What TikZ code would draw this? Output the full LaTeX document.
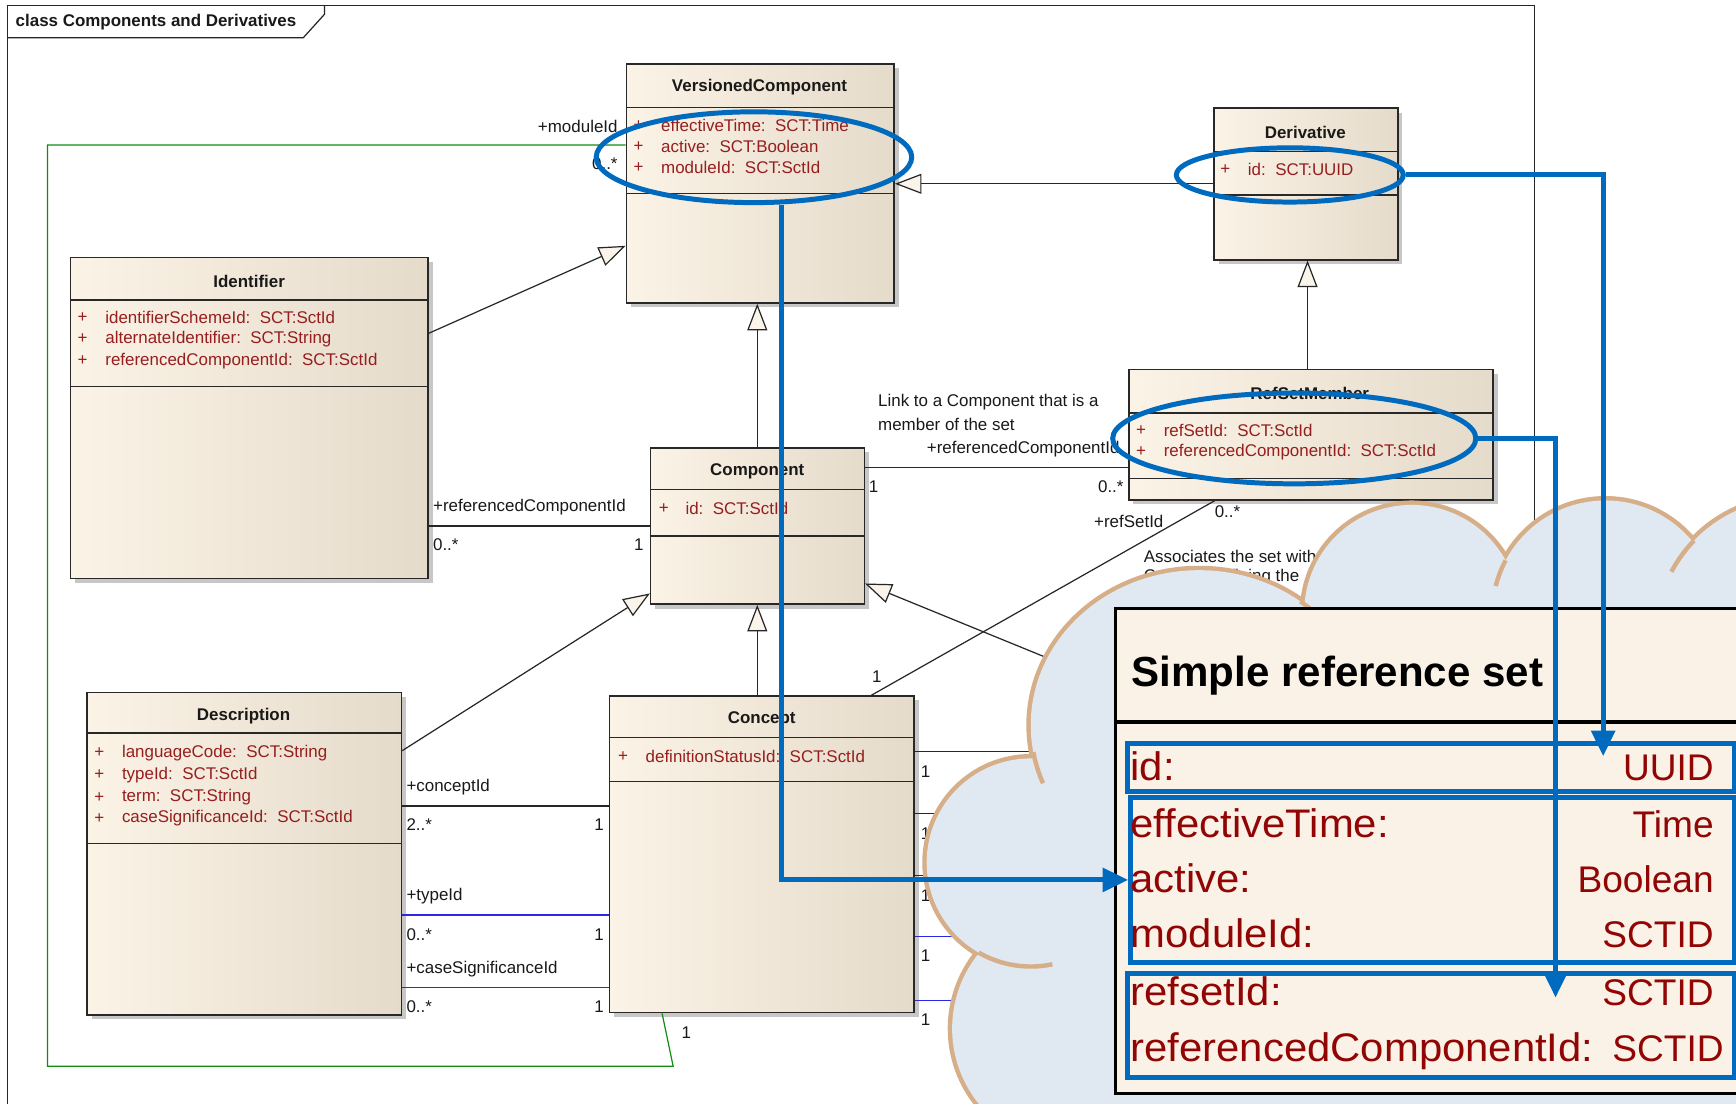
\documentclass[tikz,border=0pt]{standalone}
\usepackage{fontspec}
\setmainfont{Liberation Sans}
\newfontfamily\tblfont[FakeStretch=1.05]{Liberation Sans}
\usetikzlibrary{arrows.meta,shapes.geometric,shadows}
\definecolor{clsL}{RGB}{251,243,230}
\definecolor{clsR}{RGB}{229,219,203}
\definecolor{umlborder}{RGB}{40,40,40}
\definecolor{attrred}{RGB}{150,30,30}
\definecolor{genfill}{RGB}{250,244,234}
\definecolor{annblue}{RGB}{0,106,190}
\definecolor{cloudfill}{RGB}{224,233,242}
\definecolor{cloudline}{RGB}{214,174,136}
\definecolor{tblfill}{RGB}{250,242,230}
\definecolor{tblred}{RGB}{145,5,5}
\definecolor{assocblue}{RGB}{40,40,230}
\definecolor{umlgreen}{RGB}{20,140,20}
\begin{document}
\begin{tikzpicture}[x=1pt,y=-1pt,
 cls/.style={draw=umlborder,line width=1.3pt,left color=clsL,right color=clsR,inner sep=0pt,anchor=north west,
   drop shadow={shadow xshift=4pt,shadow yshift=-4pt,fill=black,opacity=0.22}},
 sepline/.style={draw=umlborder,line width=1.3pt},
 ctitle/.style={font=\fontsize{15.3}{18}\selectfont\bfseries,text=black!90,inner sep=0pt},
 attr/.style={font=\fontsize{15.3}{18}\selectfont,text=attrred,inner sep=0pt,anchor=west},
 lbl/.style={font=\fontsize{15.3}{18}\selectfont,text=black!90,inner sep=0pt},
 assoc/.style={draw=black!85,line width=1.1pt},
 bassoc/.style={draw=assocblue,line width=1.1pt},
 gen/.style={draw=black!85,line width=1.1pt,-{Triangle[length=24pt,width=18pt,fill=genfill]}},
 gline/.style={draw=umlgreen,line width=1.1pt},
 frame/.style={draw=black!85,line width=1.1pt},
 annell/.style={draw=annblue,line width=4.5pt,ellipse,inner sep=0pt},
 annline/.style={draw=annblue,line width=4.5pt,-{Triangle[length=23pt,width=21pt]}},
 annrect/.style={draw=annblue,line width=4.5pt,inner sep=0pt,anchor=north west},
 rowlbl/.style={font=\tblfont\fontsize{36}{40}\selectfont,text=tblred,inner sep=0pt,anchor=base west},
 rowval/.style={font=\fontsize{33.5}{40}\selectfont,text=tblred,inner sep=0pt,anchor=base east},
 cloudedge/.style={draw=cloudline,line width=8pt},
 cloudspur/.style={draw=cloudline,line width=4pt},
]
\useasboundingbox (0,0) rectangle (1568,997);
\fill[white] (0,0) rectangle (1568,997);

% ---------------- frame
\draw[frame] (7,1010) -- (7,5) -- (1386,5) -- (1386,1010);
\draw[frame] (7,34) -- (274,34) -- (293,13) -- (293,5);
\node[lbl,font=\fontsize{15.3}{18}\selectfont\bfseries,anchor=west] (frametitle) at (14,20) {class Components and Derivatives};

% ---------------- helper coordinates
\coordinate (h131) at (0,131);
\coordinate (h166) at (0,166);
\coordinate (h222) at (0,222);
\coordinate (h301) at (0,301);
\coordinate (h422) at (0,422);
\coordinate (h475) at (0,475);
\coordinate (h527) at (0,527);
\coordinate (h536) at (0,536);
\coordinate (h678) at (0,678);
\coordinate (h728) at (0,728);
\coordinate (h826) at (0,826.5);
\coordinate (h892) at (0,891.7);
\coordinate (v684) at (684,0);
\coordinate (v1181) at (1181,0);
\coordinate (v787) at (787,0);
\coordinate (v1097) at (1097,0);
\coordinate (v598) at (598,0);

% ---------------- class boxes
\node[cls,minimum width=242pt,minimum height=216pt] (vc) at (565,57) {};
\draw[sepline] (565,97) -- (807,97);
\draw[sepline] (565,175) -- (807,175);
\node[ctitle] (vc-t) at (686,79) {VersionedComponent};
\node[attr] (vc-p1) at (572,113) {+};
\node[attr] (vc-p2) at (572,132) {+};
\node[attr] (vc-p3) at (572,151) {+};
\node[attr] (vc-a1) at (597,113) {effectiveTime:\ \ SCT:Time};
\node[attr] (vc-a2) at (597,132) {active:\ \ SCT:Boolean};
\node[attr] (vc-a3) at (597,151) {moduleId:\ \ SCT:SctId};

\node[cls,minimum width=166pt,minimum height=137pt] (der) at (1096,97) {};
\draw[sepline] (1096,137) -- (1262,137);
\draw[sepline] (1096,176) -- (1262,176);
\node[ctitle] (der-t) at (1179,120) {Derivative};
\node[attr] (der-p1) at (1102,153) {+};
\node[attr] (der-a1) at (1127,153) {id:\ \ SCT:UUID};

\node[cls,minimum width=323pt,minimum height=290pt] (ident) at (63,232) {};
\draw[sepline] (63,271) -- (386,271);
\draw[sepline] (63,349) -- (386,349);
\node[ctitle] (ident-t) at (225,254) {Identifier};
\node[attr] (ident-p1) at (70,287) {+};
\node[attr] (ident-p2) at (70,306) {+};
\node[attr] (ident-p3) at (70,326) {+};
\node[attr] (ident-a1) at (95,287) {identifierSchemeId:\ \ SCT:SctId};
\node[attr] (ident-a2) at (95,306) {alternateIdentifier:\ \ SCT:String};
\node[attr] (ident-a3) at (95,326) {referencedComponentId:\ \ SCT:SctId};

\node[cls,minimum width=193pt,minimum height=141pt] (comp) at (587,404) {};
\draw[sepline] (587,442) -- (780,442);
\draw[sepline] (587,484) -- (780,484);
\node[ctitle] (comp-t) at (684,426) {Component};
\node[attr] (comp-p1) at (595,459) {+};
\node[attr] (comp-a1) at (619,459) {id:\ \ SCT:SctId};

\node[cls,minimum width=284pt,minimum height=291pt] (desc) at (78,625) {};
\draw[sepline] (78,662) -- (362,662);
\draw[sepline] (78,762) -- (362,762);
\node[ctitle] (desc-t) at (220,647) {Description};
\node[attr] (desc-p1) at (85,680) {+};
\node[attr] (desc-p2) at (85,700) {+};
\node[attr] (desc-p3) at (85,720) {+};
\node[attr] (desc-p4) at (85,739) {+};
\node[attr] (desc-a1) at (110,680) {languageCode:\ \ SCT:String};
\node[attr] (desc-a2) at (110,700) {typeId:\ \ SCT:SctId};
\node[attr] (desc-a3) at (110,720) {term:\ \ SCT:String};
\node[attr] (desc-a4) at (110,739) {caseSignificanceId:\ \ SCT:SctId};

\node[cls,minimum width=275pt,minimum height=286pt] (con) at (550,628) {};
\draw[sepline] (550,666) -- (825,666);
\draw[sepline] (550,706) -- (825,706);
\node[ctitle] (con-t) at (688,650) {Concept};
\node[attr] (con-p1) at (558,683.5) {+};
\node[attr] (con-a1) at (583,683.5) {definitionStatusId:\ \ SCT:SctId};

\node[cls,minimum width=329pt,minimum height=118pt] (rsm) at (1019,333) {};
\draw[sepline] (1019,373) -- (1348,373);
\draw[sepline] (1019,432) -- (1348,432);
\node[ctitle] (rsm-t) at (1183,355) {RefSetMember};
\node[attr] (rsm-p1) at (1026,389) {+};
\node[attr] (rsm-p2) at (1026,408) {+};
\node[attr] (rsm-a1) at (1051,389) {refSetId:\ \ SCT:SctId};
\node[attr] (rsm-a2) at (1051,408) {referencedComponentId:\ \ SCT:SctId};

% ---------------- generalizations
\draw[gen] (der.west |- h166) -- (vc.east |- h166);
\draw[gen] (rsm.north -| v1181) -- (der.south -| v1181);
\draw[gen] (comp.north -| v684) -- (vc.south -| v684);
\draw[gen] (con.north -| v684) -- (comp.south -| v684);
\draw[gen] (ident.east |- h301) -- (vc.west |- h222);
\draw[gen] (desc.east |- h678) -- (comp.west |- h536);
\coordinate (rsGenEnd) at (960,600);
\draw[gen] (rsGenEnd) -- (comp.east |- h527);

% ---------------- associations
\draw[assoc] (ident.east |- h475) -- (comp.west |- h475);
\draw[assoc] (comp.east |- h422) -- (rsm.west |- h422);
\draw[assoc] (con.north -| v787) -- (rsm.south -| v1097);
\draw[assoc] (desc.east |- h728) -- (con.west |- h728);
\draw[bassoc] (desc.east |- h826) -- (con.west |- h826);
\draw[bassoc] (desc.east |- h892) -- (con.west |- h892);
\draw[gline] (vc.west |- h131) -- (43,131) -- (43,963) -- (608,963) -- (con.south -| v598);
\coordinate (cr1) at (1000,679);
\coordinate (cr2) at (1000,735);
\coordinate (cr3) at (1000,791);
\coordinate (cr4) at (1000,846);
\coordinate (cr5) at (1000,904);
\draw[assoc] (con.east |- cr1) -- (cr1);
\draw[assoc] (con.east |- cr2) -- (cr2);
\draw[assoc] (con.east |- cr3) -- (cr3);
\draw[bassoc] (con.east |- cr4) -- (cr4);
\draw[bassoc] (con.east |- cr5) -- (cr5);

% ---------------- labels
\node[lbl,anchor=east] (l-mod) at (558,114) {+moduleId};
\node[lbl,anchor=east] (l-mod-m) at (558,148) {0..*};
\node[lbl,anchor=west] (l-rc1) at (391,458) {+referencedComponentId};
\node[lbl,anchor=west] (l-rc1-m) at (391,492) {0..*};
\node[lbl] (l-rc1-1) at (577,492) {1};
\node[lbl,anchor=west] (note1a) at (793,363) {Link to a Component that is a};
\node[lbl,anchor=west] (note1b) at (793,383) {member of the set};
\node[lbl,anchor=west] (l-rc2) at (837,406) {+referencedComponentId};
\node[lbl] (l-rc2-1) at (789,440) {1};
\node[lbl,anchor=east] (l-rc2-m) at (1015,440) {0..*};
\node[lbl] (l-rs-1) at (792,611) {1};
\node[lbl,anchor=east] (l-rs) at (1051,471) {+refSetId};
\node[lbl,anchor=west] (l-rs-m) at (1097,462) {0..*};
\node[lbl,anchor=west] (note2a) at (1033,503) {Associates the set with};
\node[lbl,anchor=west] (note2b) at (1033,521) {Concept defining the};
\node[lbl,anchor=west] (l-cid) at (367,711) {+conceptId};
\node[lbl,anchor=west] (l-cid-m) at (367,745) {2..*};
\node[lbl] (l-cid-1) at (541,745) {1};
\node[lbl,anchor=west] (l-tid) at (367,809) {+typeId};
\node[lbl,anchor=west] (l-tid-m) at (367,844) {0..*};
\node[lbl] (l-tid-1) at (541,844) {1};
\node[lbl,anchor=west] (l-csi) at (367,875) {+caseSignificanceId};
\node[lbl,anchor=west] (l-csi-m) at (367,909) {0..*};
\node[lbl] (l-csi-1) at (541,909) {1};
\node[lbl] (l-g1) at (620,933) {1};
\node[lbl] (l-cr1) at (836,697) {1};
\node[lbl] (l-cr2) at (836,753) {1};
\node[lbl] (l-cr3) at (836,809) {1};
\node[lbl] (l-cr4) at (836,863) {1};
\node[lbl] (l-cr5) at (836,921) {1};

% ---------------- cloud
\foreach \cx/\cy/\rx/\ry in {931/779/94/94,968/929/108/108,1083/655/152/140,1275/553/97/97,1450/554/102/102,1620/575/125/125}
  \draw[cloudedge] (\cx,\cy) ellipse [x radius=\rx, y radius=\ry];
\foreach \cx/\cy/\rx/\ry in {931/779/94/94,968/929/108/108,1083/655/152/140,1275/553/97/97,1450/554/102/102,1620/575/125/125}
  \fill[cloudfill] (\cx,\cy) ellipse [x radius=\rx, y radius=\ry];
\fill[cloudfill] (960,620) rectangle (1700,1100);
\draw[cloudspur] (884,860.4) arc[start angle=120,end angle=78,radius=94];
\draw[cloudspur] (933.3,679.3) arc[start angle=170,end angle=158,x radius=152,y radius=140];
\draw[cloudspur] (1174.5,543.2) arc[start angle=-53,end angle=-42,x radius=152,y radius=140];
\draw[cloudspur] (1359.9,506.1) arc[start angle=208,end angle=194,radius=102];
\draw[cloudspur] (1530.1,488.2) arc[start angle=224,end angle=208,radius=125];

% ---------------- simple reference set table
\node[draw=black,line width=3pt,fill=tblfill,minimum width=640pt,minimum height=438pt,anchor=north west,inner sep=0pt] (srs) at (1006,548) {};
\draw[black,line width=3pt] (srs.west |- 0,652) -- (srs.east |- 0,652);
\node[font=\fontsize{38}{44}\selectfont\bfseries,anchor=base west,inner sep=0pt] (srs-title) at (1022,620) {Simple reference set};
\node[annrect,minimum width=548pt,minimum height=44pt] (rId) at (1016,669) {};
\node[annrect,minimum width=545pt,minimum height=149pt] (rEff) at (1019,718) {};
\node[annrect,minimum width=548pt,minimum height=94pt] (rRef) at (1016,877) {};
\node[rowlbl] (k1) at (1021,705) {id:};
\node[rowval] (w1) at (1548,705) {UUID};
\node[rowlbl] (k2) at (1021,756) {effectiveTime:};
\node[rowval] (w2) at (1548,756) {Time};
\node[rowlbl] (k3) at (1021,806) {active:};
\node[rowval] (w3) at (1548,806) {Boolean};
\node[rowlbl] (k4) at (1021,856) {moduleId:};
\node[rowval] (w4) at (1548,856) {SCTID};
\node[rowlbl] (k5) at (1021,908) {refsetId:};
\node[rowval] (w5) at (1548,908) {SCTID};
\node[rowlbl] (k6) at (1021,959) {referencedComponentId:};
\node[rowval] (w6) at (1557,959) {SCTID};

% ---------------- blue annotations
\node[annell,minimum width=285pt,minimum height=82pt] (ellVC) at (681,142) {};
\node[annell,minimum width=205pt,minimum height=49pt] (ellDer) at (1165,158) {};
\node[annell,minimum width=328pt,minimum height=82pt] (ellRS) at (1169,396) {};
\coordinate (vcx) at (706,0);
\coordinate (uuidTip) at (1448,683);
\coordinate (refTip) at (1405,901);
\draw[annline] (ellVC.south -| vcx) |- (rEff.west);
\draw[annline] (ellDer.east) -| (uuidTip);
\draw[annline] (ellRS.east) -| (refTip);
\end{tikzpicture}
\end{document}
